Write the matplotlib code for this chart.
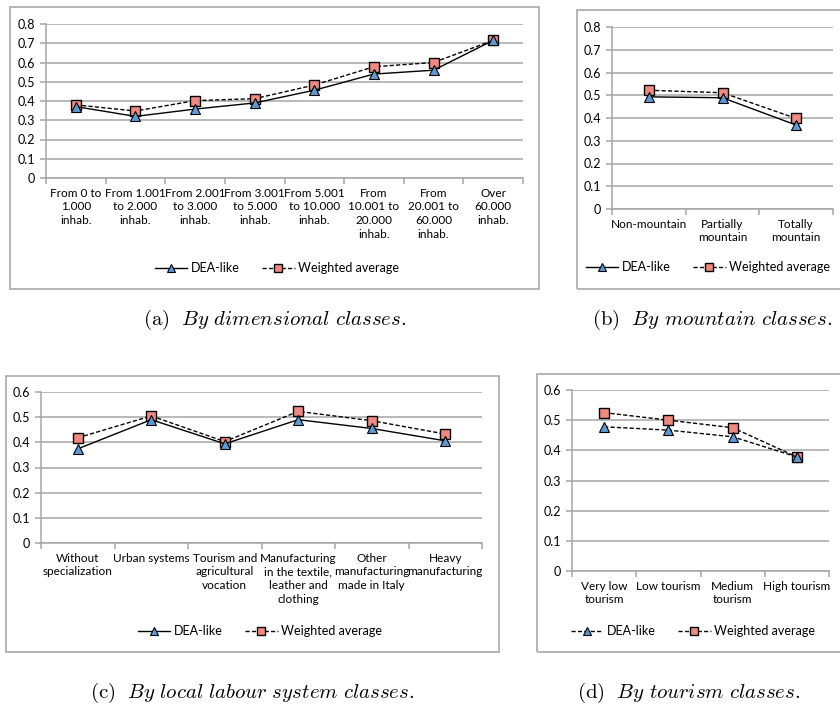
import matplotlib
matplotlib.use('Agg')
import matplotlib.pyplot as plt
from matplotlib.patches import Rectangle
import numpy as np

plt.rcParams['font.family'] = ['Lato', 'DejaVu Sans']
plt.rcParams['mathtext.fontset'] = 'cm'

# (a) dimensional classes
dim_labels = ['From 0 to\n1.000\ninhab.', 'From 1.001\nto 2.000\ninhab.',
              'From 2.001\nto 3.000\ninhab.', 'From 3.001\nto 5.000\ninhab.',
              'From 5.001\nto 10.000\ninhab.', 'From\n10.001 to\n20.000\ninhab.',
              'From\n20.001 to\n60.000\ninhab.', 'Over\n60.000\ninhab.']
dim_dea = [0.371, 0.320, 0.358, 0.390, 0.456, 0.540, 0.560, 0.715]
dim_wavg = [0.380, 0.348, 0.402, 0.412, 0.483, 0.578, 0.600, 0.715]

# (b) mountain classes
mnt_labels = ['Non-mountain', 'Partially\nmountain', 'Totally\nmountain']
mnt_dea = [0.493, 0.489, 0.369]
mnt_wavg = [0.522, 0.511, 0.398]

# (c) local labour system classes
lls_labels = ['Without\nspecialization', 'Urban systems', 'Tourism and\nagricultural\nvocation',
              'Manufacturing\nin the textile,\nleather and\nclothing',
              'Other\nmanufacturing\nmade in Italy', 'Heavy\nmanufacturing']
lls_dea = [0.374, 0.490, 0.394, 0.490, 0.455, 0.406]
lls_wavg = [0.418, 0.505, 0.403, 0.523, 0.486, 0.433]

# (d) tourism classes
tour_labels = ['Very low\ntourism', 'Low tourism', 'Medium\ntourism', 'High tourism']
tour_dea = [0.478, 0.467, 0.445, 0.378]
tour_wavg = [0.525, 0.500, 0.475, 0.378]

W, H = 840, 709
fig = plt.figure(figsize=(W / 100, H / 100), dpi=100)
fig.set_facecolor('white')

GRID = '#a6a6a6'
BLUE = '#5b9bd5'
RED = '#f08a80'
FS = 8.5


def px_axes(l, t, r, b):
    return fig.add_axes([l / W, 1 - b / H, (r - l) / W, (b - t) / H])


def box(l, t, r, b):
    fig.patches.append(Rectangle((l / W, 1 - b / H), (r - l) / W, (b - t) / H,
                                 transform=fig.transFigure, fill=False,
                                 edgecolor='#a9a9a9', linewidth=1.2))


def panel(rect, boxrect, labels, dea, wavg, ymax, dea_style, legend_x, legend_y,
          caption, cap_xy):
    box(*boxrect)
    ax = px_axes(*rect)
    n = len(labels)
    x = np.arange(n)
    ax.plot(x, wavg, linestyle='--', color='black', linewidth=1.0, marker='s',
            markersize=6.5, markerfacecolor=RED, markeredgecolor='black',
            markeredgewidth=1.0, label='Weighted average', zorder=3,
            dashes=(3, 1.6))
    ax.plot(x, dea, linestyle=dea_style, color='black', linewidth=1.0, marker='^',
            markersize=6.5, markerfacecolor=BLUE, markeredgecolor='black',
            markeredgewidth=0.8, label='DEA-like', zorder=4,
            **({'dashes': (3, 1.6)} if dea_style == '--' else {}))
    ax.set_xlim(-0.5, n - 0.5)
    ax.set_ylim(0, ymax)
    yt = np.round(np.arange(0, ymax + 0.001, 0.1), 1)
    ax.set_yticks(yt)
    ax.set_yticklabels(['0' if v == 0 else f'{v:.1f}' for v in yt])
    ax.yaxis.grid(True, color=GRID, linewidth=1.1)
    ax.set_axisbelow(True)
    ax.set_xticks(x)
    ax.set_xticklabels(labels, fontsize=FS, linespacing=1.3)
    ax.set_xticks(np.arange(n + 1) - 0.5, minor=True)
    ax.tick_params(axis='x', which='major', length=0, pad=7)
    ax.tick_params(axis='x', which='minor', length=4, color=GRID, width=1.1)
    ax.tick_params(axis='y', length=4, color=GRID, width=1.1, labelsize=FS + 0.5, pad=4)
    for s in ['top', 'right']:
        ax.spines[s].set_visible(False)
    for s in ['left', 'bottom']:
        ax.spines[s].set_color(GRID)
        ax.spines[s].set_linewidth(1.1)
    h, l = ax.get_legend_handles_labels()
    fig.legend(h[::-1], l[::-1], loc='center', ncol=2, frameon=False, fontsize=FS + 0.5,
               bbox_to_anchor=(legend_x / W, 1 - legend_y / H), handlelength=2.6,
               columnspacing=1.8, handletextpad=0.3, markerscale=0.8)
    fig.text(cap_xy[0] / W, 1 - cap_xy[1] / H, caption, ha='center', va='center',
             fontsize=15)
    return ax


panel((46, 24, 523, 178), (10, 7, 539, 289), dim_labels, dim_dea, dim_wavg, 0.8, '-',
      277, 268, r'$\mathrm{(a)}\ \ \mathit{By\ dimensional\ classes.}$', (275, 320))
panel((612, 27, 833, 209), (577, 10, 850, 289), mnt_labels, mnt_dea, mnt_wavg, 0.8, '-',
      708, 267, r'$\mathrm{(b)}\ \ \mathit{By\ mountain\ classes.}$', (712, 320))
panel((41, 392, 482, 543), (6, 376, 499, 652), lls_labels, lls_dea, lls_wavg, 0.6, '-',
      260, 631, r'$\mathrm{(c)}\ \ \mathit{By\ local\ labour\ system\ classes.}$', (252, 693))
panel((572, 390, 829, 571), (537, 374, 850, 652), tour_labels, tour_dea, tour_wavg, 0.6, '--',
      693, 631, r'$\mathrm{(d)}\ \ \mathit{By\ tourism\ classes.}$', (689, 693))

fig.savefig('out.png', dpi=100)
